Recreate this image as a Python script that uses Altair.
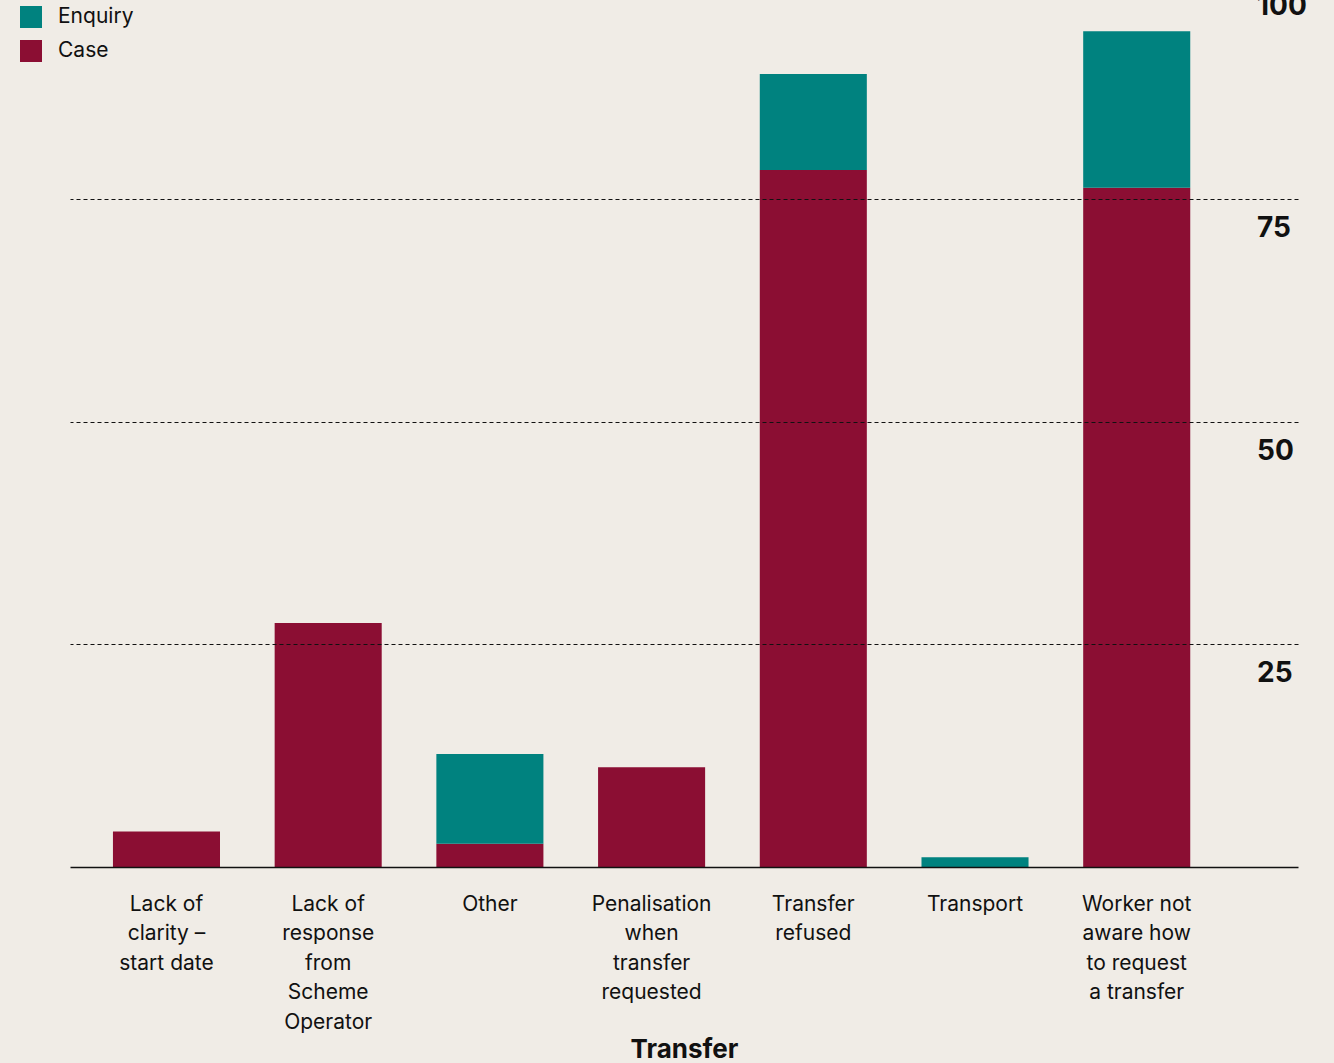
import json
import altair as alt
import pandas as pd

categories = [
    "Lack of clarity – start date",
    "Lack of response from Scheme Operator",
    "Other",
    "Penalisation when transfer requested",
    "Transfer refused",
    "Transport",
    "Worker not aware how to request a transfer",
]
label_lines = [
    ["Lack of", "clarity –", "start date"],
    ["Lack of", "response", "from", "Scheme", "Operator"],
    ["Other"],
    ["Penalisation", "when", "transfer", "requested"],
    ["Transfer", "refused"],
    ["Transport"],
    ["Worker not", "aware how", "to request", "a transfer"],
]
case_values = [4.0, 27.4, 2.6, 11.2, 78.3, 0.0, 76.3]
enquiry_values = [0.0, 0.0, 10.1, 0.0, 10.8, 1.1, 17.6]
series = ["Enquiry", "Case"]
series_colors = ["#00827F", "#8B0E33"]
tick_values = [25, 50, 75, 100]
grid_values = [25, 50, 75]

rows = []
for c, cv, ev in zip(categories, case_values, enquiry_values):
    rows.append({"category": c, "type": "Case", "value": cv, "order": 0})
    rows.append({"category": c, "type": "Enquiry", "value": ev, "order": 1})
df = pd.DataFrame(rows)
ticks_df = pd.DataFrame({"tick": tick_values, "label": [str(t) for t in tick_values]})

FONT = "Inter"
label_map = json.dumps(dict(zip(categories, label_lines)), ensure_ascii=False)

y_scale = alt.Scale(domain=[0, 97.4], nice=False, zero=True)


def y_axis():
    return alt.Axis(
        values=grid_values,
        grid=True,
        gridDash=[4, 3],
        gridColor="#111111",
        gridWidth=1,
        gridOpacity=1,
        labels=False,
        ticks=False,
        domain=False,
        title=None,
        orient="right",
        zindex=1,
    )


bars = alt.Chart(df).mark_bar().encode(
    x=alt.X(
        "category:N",
        sort=categories,
        scale=alt.Scale(paddingInner=0.338, paddingOuter=0.466, align=0.285),
        axis=alt.Axis(
            title="Transfer",
            labelAngle=0,
            labelExpr=f"{label_map}[datum.value]",
            labelFont=FONT,
            labelFontSize=21,
            labelLineHeight=29.5,
            labelColor="#111111",
            labelPadding=26,
            labelLimit=0,
            ticks=False,
            domain=True,
            domainColor="#111111",
            domainWidth=1.5,
            titleFont=FONT,
            titleFontSize=26,
            titleFontWeight="bold",
            titleColor="#111111",
            titlePadding=4,
            zindex=1,
        ),
    ),
    y=alt.Y("value:Q", stack="zero", scale=y_scale, axis=y_axis()),
    color=alt.Color(
        "type:N",
        scale=alt.Scale(domain=series, range=series_colors),
        legend=alt.Legend(
            title=None,
            orient="none",
            legendX=-50,
            legendY=6,
            symbolType="square",
            symbolSize=484,
            symbolStrokeWidth=0,
            labelFont=FONT,
            labelFontSize=21,
            labelColor="#111111",
            labelOffset=16,
            rowPadding=12,
            padding=0,
        ),
    ),
    order=alt.Order("order:Q", sort="ascending"),
)

ylabels = alt.Chart(ticks_df).mark_text(
    align="left", baseline="middle", dy=30, font=FONT, fontSize=28,
    fontWeight="bold", color="#111111"
).encode(
    x=alt.value(1187),
    y=alt.Y("tick:Q", scale=y_scale, axis=y_axis()),
    text="label:N",
)

chart = alt.layer(bars, ylabels).properties(
    width=1228,
    height=867,
    autosize=alt.AutoSizeParams(type="none"),
    padding={"left": 70, "top": 0, "right": 36, "bottom": 196},
    background="#F0ECE6",
).configure_view(stroke=None)

chart.save("out.html", embed_options={"renderer": "svg", "actions": False})
